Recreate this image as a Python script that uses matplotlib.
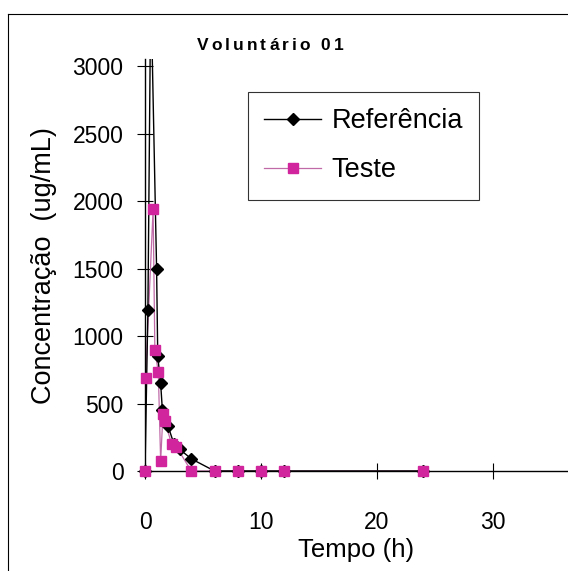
import matplotlib.pyplot as plt
import numpy as np
from matplotlib.lines import Line2D

plt.rcParams['font.family'] = ['Liberation Sans', 'DejaVu Sans']

# tempo (h) e concentracao (ug/mL)
t_ref = np.array([0, 0.25, 0.5, 1.0, 1.1, 1.35, 1.5, 2.0, 2.5, 3.0, 4.0, 6.0, 8.0, 10.0, 12.0, 24.0])
c_ref = np.array([0, 1190, 3600, 1500, 850, 650, 450, 330, 200, 160, 90, 0, 0, 0, 0, 0])

t_test = np.array([0, 0.05, 0.7, 0.85, 1.15, 1.35, 1.55, 1.7, 2.3, 2.7, 4.0, 6.0, 8.0, 10.0, 12.0, 24.0])
c_test = np.array([0, 690, 1940, 900, 730, 75, 420, 370, 200, 180, 0, 0, 0, 0, 0, 0])

title = 'Voluntário 01'
ymax = 3050
pink = '#d0259c'
pink_line = '#c06aa8'

fig = plt.figure(figsize=(5.68, 5.71), dpi=100)
ax = fig.add_axes([145/568, 1 - 471/571, 1 - 145/568, (471 - 59.3)/571])

ax.plot(t_ref, c_ref, color='black', lw=1.0, zorder=3)
ax.plot(t_test, c_test, color=pink_line, lw=0.9, zorder=2)
m = c_ref <= ymax
ax.plot(t_ref[m], c_ref[m], ls='none', marker='D', ms=6.5, color='black', clip_on=False, zorder=4)
m = c_test <= ymax
ax.plot(t_test[m], c_test[m], ls='none', marker='s', ms=7, color=pink, clip_on=False, zorder=5)

ax.set_xlim(0, 36.5)
ax.set_ylim(0, ymax)
ax.set_xticks([0, 10, 20, 30])
ax.set_yticks(np.arange(0, 3001, 500))
ax.spines['top'].set_visible(False)
ax.spines['right'].set_visible(False)
ax.spines['left'].set_linewidth(1.0)
ax.spines['bottom'].set_linewidth(1.0)
ax.tick_params(direction='inout', length=12, width=0.8, labelsize=16.5)
ax.tick_params(axis='y', pad=9.5)
ax.tick_params(axis='x', pad=23)

ax.set_xlabel('Tempo (h)', fontsize=18.5, labelpad=3)
ax.set_ylabel('Concentração  (ug/mL)', fontsize=19.5, labelpad=11)

# titulo com espacamento entre letras
renderer = fig.canvas.get_renderer()
track = 3.0
widths = []
for ch in title:
    t = fig.text(0, 0, ch if ch != ' ' else 'i', fontsize=12.5, fontweight='bold')
    widths.append(t.get_window_extent(renderer).width)
    t.remove()
total = sum(widths) + track * (len(title) - 1)
x = 270 - total / 2
for ch, w in zip(title, widths):
    if ch != ' ':
        fig.text(x / 568, 1 - 46/571, ch, fontsize=12.5, fontweight='bold', ha='left', va='center')
    x += w + track

handles = [Line2D([], [], color='black', lw=1, marker='D', ms=6.5),
           Line2D([], [], color=pink_line, lw=0.9, marker='s', ms=7, mfc=pink, mec=pink)]
leg = ax.legend(handles, ['Referência', 'Teste'], loc='upper left',
                bbox_to_anchor=((248 - 145)/423, (471 - 92)/411.7),
                fontsize=19.5, frameon=True, fancybox=False, edgecolor='black',
                labelspacing=0.85, handlelength=2.1, handletextpad=0.38,
                borderpad=0.6, borderaxespad=0)
leg.get_frame().set_linewidth(0.8)

# moldura externa
fig.add_artist(Line2D([8/568, 8/568], [0, 1 - 14/571], color='black', lw=0.8))
fig.add_artist(Line2D([8/568, 1], [1 - 14/571, 1 - 14/571], color='black', lw=0.8))

fig.savefig('out.png', dpi=100)
